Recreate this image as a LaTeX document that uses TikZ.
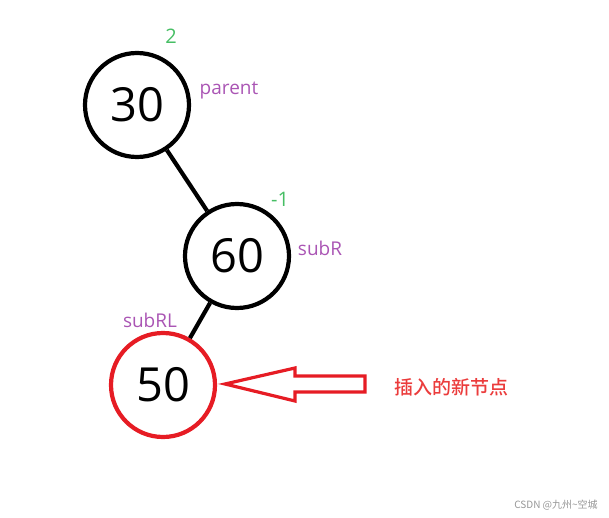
\documentclass[tikz,border=0pt]{standalone}
\usepackage{fontspec}
\setmainfont{Open Sans}
\newfontfamily\cjk{Noto Sans CJK SC}[BoldFont={Noto Sans CJK SC Medium}]
\definecolor{lblgreen}{RGB}{70,190,100}
\definecolor{lblpurple}{RGB}{170,85,180}
\definecolor{myred}{RGB}{230,28,36}
\definecolor{txtred}{RGB}{235,60,60}
\definecolor{wm}{RGB}{150,150,150}
\begin{document}
\begin{tikzpicture}[x=1pt,y=-1pt,
  treenode/.style={circle,draw=black,line width=4.2pt,minimum size=104pt,inner sep=0pt,font=\fontsize{47}{47}\selectfont},
  newnode/.style={treenode,draw=myred},
  edge/.style={line width=4.2pt,black},
  bf/.style={text=lblgreen,font=\fontsize{20}{20}\selectfont},
  ptr/.style={text=lblpurple,font=\fontsize{19}{19}\selectfont}]
\useasboundingbox (0,0) rectangle (609,518);
\node[treenode] (n30) at (137,105) {30};
\node[treenode] (n60) at (237,256) {60};
\node[newnode] (n50) at (163,385) {50};
\draw[edge] (n30) -- (n60);
\draw[edge] (n60) -- (n50);
\node[bf] (b30) at (171,36) {2};
\node[bf] (b60) at (280,199) {-1};
\node[ptr] (lp) at (229,91) {parent};
\node[ptr] (lr) at (320,248) {subR};
\node[ptr] (lrl) at (150,320) {subRL};
\draw[myred,line width=3.2pt,line join=miter] (225,384) -- (295,368) -- (295,376) -- (365,376) -- (365,392) -- (295,392) -- (295,401) -- cycle;
\node[text=txtred,font=\cjk\bfseries\fontsize{19}{19}\selectfont] (lbl) at (451,387) {插入的新节点};
\node[text=wm,font=\cjk\fontsize{10}{10}\selectfont] (wmk) at (556,505) {CSDN @九州\textasciitilde 空城};
\end{tikzpicture}
\end{document}
